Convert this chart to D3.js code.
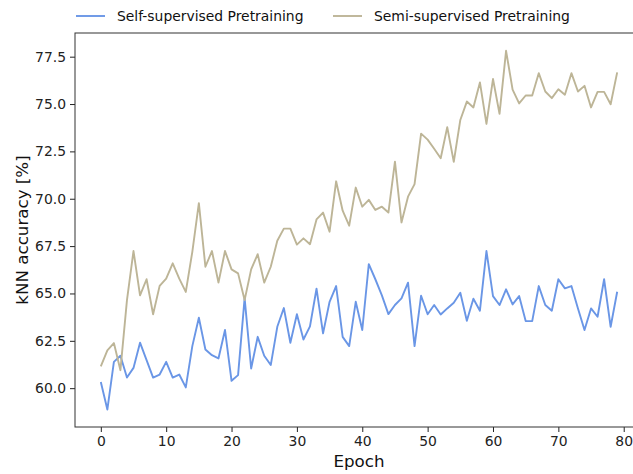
<!DOCTYPE html>
<html>
<head>
<meta charset="utf-8">
<script src="https://cdn.jsdelivr.net/npm/d3@7"></script>
<style>
  html, body { margin: 0; padding: 0; background: #fff; }
  svg { display: block; font-family: "DejaVu Sans", sans-serif; }
</style>
</head>
<body>
<svg id="chart" width="633" height="474"></svg>
<script>
// kNN accuracy per epoch for the two pretraining schemes
const epochs = d3.range(0, 80);

const selfSupervised = [
  60.33, 58.87, 61.39, 61.71, 60.56, 61.07, 62.40, 61.48, 60.56, 60.72,
  61.39, 60.56, 60.72, 60.04, 62.22, 63.72, 62.04, 61.74, 61.57, 63.07,
  60.39, 60.69, 64.75, 61.04, 62.71, 61.71, 61.22, 63.24, 64.23, 62.40,
  63.90, 62.57, 63.26, 65.25, 62.89, 64.56, 65.39, 62.71, 62.22, 64.56,
  63.07, 66.55, 65.75, 64.90, 63.91, 64.39, 64.74, 65.57, 62.22, 64.88,
  63.90, 64.39, 63.89, 64.21, 64.51, 65.04, 63.56, 64.72, 64.09, 67.24,
  64.86, 64.39, 65.22, 64.42, 64.86, 63.54, 63.54, 65.39, 64.39, 64.09,
  65.75, 65.27, 65.39, 64.21, 63.07, 64.21, 63.77, 65.75, 63.24, 65.09
];

const semiSupervised = [
  61.15, 62.00, 62.38, 60.95, 64.65, 67.24, 64.90, 65.75, 63.90, 65.40,
  65.78, 66.59, 65.78, 65.08, 67.20, 69.77, 66.41, 67.24, 65.57, 67.24,
  66.27, 66.06, 64.65, 66.27, 67.07, 65.57, 66.41, 67.78, 68.42, 68.42,
  67.58, 67.91, 67.60, 68.91, 69.27, 68.26, 70.92, 69.37, 68.58, 70.59,
  69.58, 69.94, 69.41, 69.58, 69.27, 71.96, 68.75, 70.11, 70.77, 73.44,
  73.12, 72.64, 72.14, 73.78, 71.95, 74.16, 75.13, 74.82, 76.14, 73.95,
  76.32, 74.48, 77.81, 75.76, 75.03, 75.45, 75.45, 76.63, 75.66, 75.31,
  75.78, 75.49, 76.63, 75.66, 75.96, 74.82, 75.64, 75.64, 74.99, 76.67
];

const xTicks = [0, 10, 20, 30, 40, 50, 60, 70, 80];
const yTicks = [60.0, 62.5, 65.0, 67.5, 70.0, 72.5, 75.0, 77.5];

const seriesNames = ["Self-supervised Pretraining", "Semi-supervised Pretraining"];
const seriesColors = ["#6a96e6", "#bdb597"];

const svg = d3.select("#chart");

// plot frame (right edge sits past the canvas)
const frame = { left: 75, right: 643, top: 33, bottom: 427 };

const x = d3.scaleLinear().domain([-3.95, 82.95]).range([frame.left, frame.right]);
const y = d3.scaleLinear().domain([57.95, 78.75]).range([frame.bottom, frame.top]);

// series lines
const series = [selfSupervised, semiSupervised];
const line = d3.line().x((d, i) => x(epochs[i])).y(d => y(d));

series.forEach((vals, k) => {
  svg.append("path")
    .datum(vals)
    .attr("fill", "none")
    .attr("stroke", seriesColors[k])
    .attr("stroke-width", 1.9)
    .attr("stroke-linejoin", "round")
    .attr("d", line);
});

// axes
const xAxis = d3.axisBottom(x).tickValues(xTicks).tickSize(5).tickPadding(4)
  .tickFormat(d3.format("d"));
const yAxis = d3.axisLeft(y).tickValues(yTicks).tickSize(5).tickPadding(4)
  .tickFormat(d3.format(".1f"));

const gx = svg.append("g").attr("transform", `translate(0,${frame.bottom})`).call(xAxis);
const gy = svg.append("g").attr("transform", `translate(${frame.left},0)`).call(yAxis);

[gx, gy].forEach(g => {
  g.select(".domain").remove();
  g.selectAll(".tick line").attr("stroke", "#222").attr("stroke-width", 1);
  g.selectAll(".tick text")
    .attr("fill", "#222")
    .style("font-family", "'DejaVu Sans', sans-serif")
    .style("font-size", "13.9px");
});

// frame
svg.append("rect")
  .attr("x", frame.left).attr("y", frame.top)
  .attr("width", frame.right - frame.left).attr("height", frame.bottom - frame.top)
  .attr("fill", "none").attr("stroke", "#333").attr("stroke-width", 1);

// axis titles
svg.append("text")
  .attr("x", x(39.5)).attr("y", 467)
  .attr("text-anchor", "middle")
  .style("font-size", "16.7px").attr("fill", "#111")
  .text("Epoch");

svg.append("text")
  .attr("transform", `translate(28,${(frame.top + frame.bottom) / 2}) rotate(-90)`)
  .attr("text-anchor", "middle")
  .style("font-size", "16.7px").attr("fill", "#111")
  .text("kNN accuracy [%]");

// legend across the top
const legendX = [76, 333];
seriesNames.forEach((name, k) => {
  const g = svg.append("g").attr("transform", `translate(${legendX[k]},16)`);
  g.append("line").attr("x1", 0).attr("x2", 29).attr("y1", 0).attr("y2", 0)
    .attr("stroke", seriesColors[k]).attr("stroke-width", 1.9);
  g.append("text").attr("x", 41).attr("y", 0).attr("dy", "0.35em")
    .style("font-size", "13.9px").attr("fill", "#111")
    .text(name);
});
</script>
</body>
</html>
